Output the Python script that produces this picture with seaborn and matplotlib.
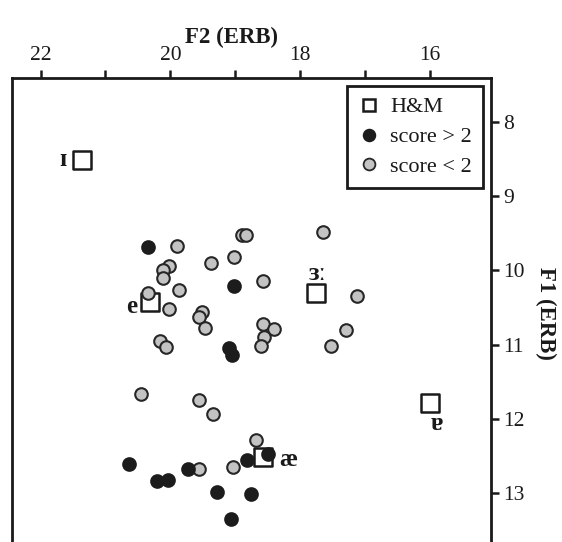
import pandas as pd
import seaborn as sns
import matplotlib.pyplot as plt
from matplotlib.lines import Line2D

# H&M reference vowels
hm_vowels = ["ɪ", "e", "ɜː", "ɐ", "æ"]
hm_f2 = [21.36, 20.31, 17.75, 16.00, 18.57]
hm_f1 = [8.52, 10.43, 10.31, 11.79, 12.51]

# listener tokens, score > 2
high_f2 = [20.34, 19.02, 19.09, 19.05, 18.49, 18.82, 20.63, 20.20, 20.04,
           19.73, 19.28, 18.76, 19.06]
high_f1 = [9.69, 10.21, 11.05, 11.14, 12.47, 12.56, 12.61, 12.84, 12.82,
           12.68, 12.99, 13.02, 13.35]

# listener tokens, score < 2
low_f2 = [19.90, 20.02, 20.12, 20.12, 19.86, 20.34, 20.02, 19.37, 19.02,
          18.90, 18.84, 18.58, 19.51, 19.56, 19.47, 18.57, 18.41, 18.55,
          18.61, 20.16, 20.07, 17.65, 17.12, 17.29, 17.53, 20.46, 19.56,
          19.35, 18.68, 19.03, 19.56]
low_f1 = [9.67, 9.94, 9.99, 10.11, 10.26, 10.31, 10.52, 9.90, 9.82,
          9.52, 9.53, 10.14, 10.56, 10.63, 10.78, 10.72, 10.79, 10.90,
          11.02, 10.95, 11.04, 9.48, 10.34, 10.81, 11.02, 11.66, 11.75,
          11.94, 12.28, 12.65, 12.68]

# label offsets in points (x, baseline y) relative to each square
label_offsets = [(-13.5, -4.2), (-13.5, -7.8), (1.0, 9.5), (4.8, -19.2), (18.0, -6.5)]

sns.set_theme(style="white")
plt.rcParams["font.family"] = ["Liberation Serif", "DejaVu Serif"]

hm = pd.DataFrame({"F2": hm_f2, "F1": hm_f1})
high = pd.DataFrame({"F2": high_f2, "F1": high_f1})
low = pd.DataFrame({"F2": low_f2, "F1": low_f1})

ink = "#1a1a1a"

fig = plt.figure(figsize=(5.62, 5.42), dpi=100)
ax = fig.add_axes([12 / 562, 0.0, 479 / 562, 464 / 542])

sns.scatterplot(data=hm, x="F2", y="F1", marker="s", s=150, color="white",
                edgecolor=ink, linewidth=1.8, zorder=2, ax=ax)
sns.scatterplot(data=low, x="F2", y="F1", marker="o", s=82, color="#c3c3c3",
                edgecolor="#262626", linewidth=1.5, zorder=3, ax=ax)
sns.scatterplot(data=high, x="F2", y="F1", marker="o", s=82, color="#1c1c1c",
                edgecolor="#1c1c1c", linewidth=1.5, zorder=4, ax=ax)

for v, x, y, (dx, dy) in zip(hm_vowels, hm_f2, hm_f1, label_offsets):
    ax.annotate(v, (x, y), xytext=(dx, dy), textcoords="offset points",
                ha="center", va="baseline", fontsize=18, fontweight="bold",
                color=ink, zorder=5)

ax.set_xlim(22.44, 15.06)
ax.set_ylim(13.66, 7.41)

ax.xaxis.tick_top()
ax.xaxis.set_label_position("top")
ax.yaxis.tick_right()
ax.yaxis.set_label_position("right")
ax.set_xticks([22, 20, 18, 16])
ax.set_xticks([21, 19, 17], minor=True)
ax.set_yticks([8, 9, 10, 11, 12, 13])
ax.tick_params(axis="both", which="both", direction="out", length=6,
               width=1.8, color=ink, labelsize=15.5, labelcolor=ink, pad=3)
ax.tick_params(axis="x", which="both", top=True, bottom=False)
ax.tick_params(axis="y", which="both", right=True, left=False)

ax.set_xlabel("F2 (ERB)", fontsize=16.5, fontweight="bold", color=ink)
ax.set_ylabel("F1 (ERB)", fontsize=16.5, fontweight="bold", color=ink,
              rotation=270)
ax.xaxis.set_label_coords(0.459, 1.088)
ax.xaxis.label.set_va("center")
ax.yaxis.set_label_coords(1.113, 0.4935)
ax.yaxis.label.set_va("center")

for side in ["top", "left", "right"]:
    ax.spines[side].set_linewidth(2.0)
    ax.spines[side].set_color(ink)
ax.spines["bottom"].set_visible(False)

handles = [
    Line2D([], [], marker="s", linestyle="none", markersize=8,
           markerfacecolor="white", markeredgecolor=ink, markeredgewidth=1.8),
    Line2D([], [], marker="o", linestyle="none", markersize=8.5,
           markerfacecolor="#1c1c1c", markeredgecolor="#1c1c1c", markeredgewidth=1.2),
    Line2D([], [], marker="o", linestyle="none", markersize=8.5,
           markerfacecolor="#c3c3c3", markeredgecolor="#262626", markeredgewidth=1.3),
]
leg = ax.legend(handles, ["H&M", "score > 2", "score < 2"], loc="upper right",
                fontsize=16, frameon=True, fancybox=False, framealpha=1,
                edgecolor=ink, borderaxespad=0.35, handlelength=1.0,
                handletextpad=0.45, labelspacing=0.42, borderpad=0.5)
leg.get_frame().set_linewidth(2.0)
for t in leg.get_texts():
    t.set_color(ink)

fig.savefig("out.png", dpi=100)
